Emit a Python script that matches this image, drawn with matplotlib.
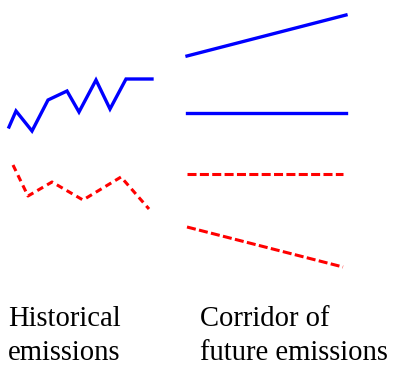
import matplotlib
matplotlib.use("Agg")
import matplotlib.pyplot as plt

# Historical emissions (x, y in chart units, y grows downward)
hist_x = [9, 16, 32, 48, 67, 79, 96, 110, 126, 152]
hist_high = [127, 111, 131, 100, 91, 112, 80, 109, 79, 79]
hist_low_x = [13, 28, 52, 83, 121, 149]
hist_low = [165, 196, 182, 200, 177, 209]

# Corridor of future emissions
fut_x = [187, 346]
fut_rise = [56, 15]
fut_flat = [113, 113]
fut_x2 = [187, 343]
fut_flat_low = [174, 174]
fut_fall = [227, 267]

labels = ["Historical\nemissions", "Corridor of\nfuture emissions"]

fig = plt.figure(figsize=(3.95, 3.65), dpi=100)
ax = fig.add_axes([0, 0, 1, 1])
ax.set_xlim(0, 395)
ax.set_ylim(365, 0)
ax.axis("off")

blue = "#0000ff"
red = "#ff0000"
lw = 2.4
dash = (0, (6.5 / 2.2, 2.4 / 2.2))

ax.plot(hist_x, hist_high, color=blue, lw=lw, solid_joinstyle="miter")
ax.plot(hist_low_x, hist_low, color=red, lw=2.2, linestyle=(0, (2.2, 1.5)))
ax.plot(fut_x, fut_rise, color=blue, lw=lw)
ax.plot(fut_x, fut_flat, color=blue, lw=lw)
ax.plot(fut_x2, fut_flat_low, color=red, lw=2.2, linestyle=dash)
ax.plot(fut_x2, fut_fall, color=red, lw=2.2, linestyle=dash)

font = dict(family=["Liberation Serif", "DejaVu Serif"], size=20.6)
ax.text(8, 360, labels[0], va="baseline", ha="left", linespacing=1.42, **font)
ax.text(200, 360, labels[1], va="baseline", ha="left", linespacing=1.42, **font)

fig.savefig("out.png", dpi=100)
